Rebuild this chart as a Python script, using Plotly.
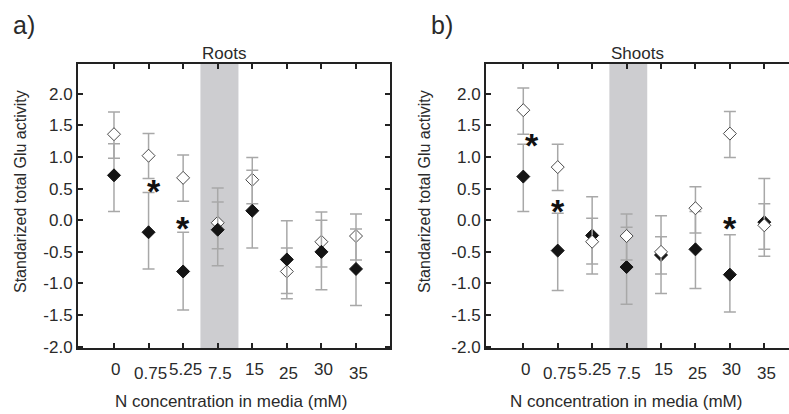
import plotly.graph_objects as go

# ---------------- data ----------------
categories = ["0", "0.75", "5.25", "7.5", "15", "25", "30", "35"]

# Panel a) Roots
roots_open = [1.36, 1.02, 0.67, -0.04, 0.64, -0.81, -0.34, -0.25]
roots_open_up = [0.35, 0.35, 0.36, 0.33, 0.35, 0.37, 0.34, 0.35]
roots_open_dn = [0.38, 0.36, 0.37, 0.41, 0.38, 0.35, 0.40, 0.38]
roots_fill = [0.71, -0.19, -0.81, -0.15, 0.15, -0.62, -0.50, -0.77]
roots_fill_up = [0.50, 0.63, 0.62, 0.66, 0.64, 0.61, 0.63, 0.63]
roots_fill_dn = [0.57, 0.58, 0.61, 0.57, 0.59, 0.62, 0.60, 0.58]

# Panel b) Shoots
shoots_open = [1.74, 0.84, -0.34, -0.25, -0.50, 0.19, 1.37, -0.08]
shoots_open_up = [0.35, 0.36, 0.37, 0.35, 0.24, 0.34, 0.35, 0.34]
shoots_open_dn = [0.38, 0.37, 0.35, 0.38, 0.35, 0.39, 0.38, 0.38]
shoots_fill = [0.69, -0.48, -0.24, -0.74, -0.55, -0.46, -0.86, -0.03]
shoots_fill_up = [0.51, 0.59, 0.61, 0.63, 0.62, 0.60, 0.63, 0.69]
shoots_fill_dn = [0.55, 0.63, 0.61, 0.59, 0.61, 0.62, 0.59, 0.54]

# significance asterisks (category index offset, value)
roots_sig_x = [1.17, 2.0]
roots_sig_y = [0.55, -0.03]
shoots_sig_x = [0.24, 1.0, 6.0]
shoots_sig_y = [1.28, 0.24, -0.03]

y_ticks = [2.0, 1.5, 1.0, 0.5, 0.0, -0.5, -1.0, -1.5, -2.0]
y_ticktext = ["%.1f" % v for v in y_ticks]

x_idx = list(range(len(categories)))

FONT = "Liberation Sans, Arial, sans-serif"
TXT = "#2a2a2a"
W, H = 789, 414
T, B = 64, 66
PH = H - T - B

fig = go.Figure()


def add_series(vals, up, dn, xa, ya, filled):
    fig.add_trace(go.Scatter(
        x=x_idx, y=vals, xaxis=xa, yaxis=ya, mode="markers",
        marker=dict(symbol="diamond", size=10,
                    color="#141414" if filled else "white",
                    line=dict(color="#141414" if filled else "#4a4a4a", width=1)),
        error_y=dict(type="data", symmetric=False, array=up, arrayminus=dn,
                     color="#a8a8a8", thickness=1.5, width=6),
        showlegend=False, hoverinfo="skip"))


# Panel a: open first, filled on top
add_series(roots_open, roots_open_up, roots_open_dn, "x", "y", False)
add_series(roots_fill, roots_fill_up, roots_fill_dn, "x", "y", True)
# Panel b: filled first, open on top
add_series(shoots_fill, shoots_fill_up, shoots_fill_dn, "x2", "y2", True)
add_series(shoots_open, shoots_open_up, shoots_open_dn, "x2", "y2", False)

# shaded band around 7.5 mM
for xr, yr in (("x", "y"), ("x2", "y2")):
    fig.add_shape(type="rect", xref=xr, yref=yr + " domain", x0=2.5, x1=3.6,
                  y0=0, y1=1, fillcolor="#cdcdd0", line=dict(width=0), layer="below")

# asterisks
for xs, ys, xr, yr in ((roots_sig_x, roots_sig_y, "x", "y"),
                       (shoots_sig_x, shoots_sig_y, "x2", "y2")):
    for xv, yv in zip(xs, ys):
        fig.add_annotation(x=xv, y=yv, xref=xr, yref=yr, text="<b>*</b>",
                           showarrow=False, yshift=-6,
                           font=dict(family=FONT, size=34, color="#111"))

# staggered category labels
for xr in ("x", "x2"):
    for i, c in enumerate(categories):
        fig.add_annotation(x=i, y=0, xref=xr, yref="paper", text=c,
                           showarrow=False, xanchor="center", yanchor="middle",
                           xshift=2, yshift=-21 if i % 2 == 0 else -25,
                           font=dict(family=FONT, size=17, color=TXT))

# axis titles
for cx in (231, 626):
    fig.add_annotation(x=cx / W, y=0, xref="paper", yref="paper",
                       text="N concentration in media (mM)", showarrow=False,
                       xanchor="center", yanchor="middle", yshift=-53,
                       font=dict(family=FONT, size=17, color=TXT))
for cx in (20, 424):
    fig.add_annotation(x=cx / W, y=(H - B - 192) / PH, xref="paper", yref="paper",
                       text="Standarized total Glu activity", showarrow=False,
                       textangle=-90, xanchor="center", yanchor="middle",
                       font=dict(family=FONT, size=16, color=TXT))

# panel titles
for lx, t in ((200, "Roots"), (609, "Shoots")):
    fig.add_annotation(x=lx / W, y=1, xref="paper", yref="paper", text=t,
                       showarrow=False, xanchor="left", yanchor="middle",
                       yshift=(T - 53), font=dict(family=FONT, size=17, color=TXT))
for lx, t in ((11, "a)"), (429, "b)")):
    fig.add_annotation(x=lx / W, y=1, xref="paper", yref="paper", text=t,
                       showarrow=False, xanchor="left", yanchor="middle",
                       yshift=(T - 25), font=dict(family=FONT, size=25, color=TXT))

axis_common = dict(showgrid=False, zeroline=False, showline=True, linecolor="#222",
                   linewidth=2, ticks="inside", ticklen=5, tickwidth=1.5,
                   tickcolor="#222", tickfont=dict(family=FONT, size=17, color=TXT))

fig.update_layout(
    width=W, height=H, margin=dict(l=0, r=0, t=T, b=B),
    paper_bgcolor="white", plot_bgcolor="white",
    font=dict(family=FONT, size=16, color=TXT),
    xaxis=dict(domain=[78 / W, 389.5 / W], range=[-1.041, 7.969], tickvals=x_idx,
               showticklabels=False, mirror="ticks", **axis_common),
    yaxis=dict(range=[-2.02, 2.47], tickvals=y_ticks, ticktext=y_ticktext,
               mirror="ticks", **axis_common),
    xaxis2=dict(domain=[486 / W, 1.0], range=[-1.083, 7.717], tickvals=x_idx,
                showticklabels=False, mirror="ticks", anchor="y2", **axis_common),
    yaxis2=dict(range=[-2.02, 2.47], tickvals=y_ticks, ticktext=y_ticktext,
                anchor="x2", mirror=False, **axis_common),
)

fig.write_html("out.html", config={"displayModeBar": False},
               post_script="document.body.style.margin='0';document.body.style.overflow='hidden';")
